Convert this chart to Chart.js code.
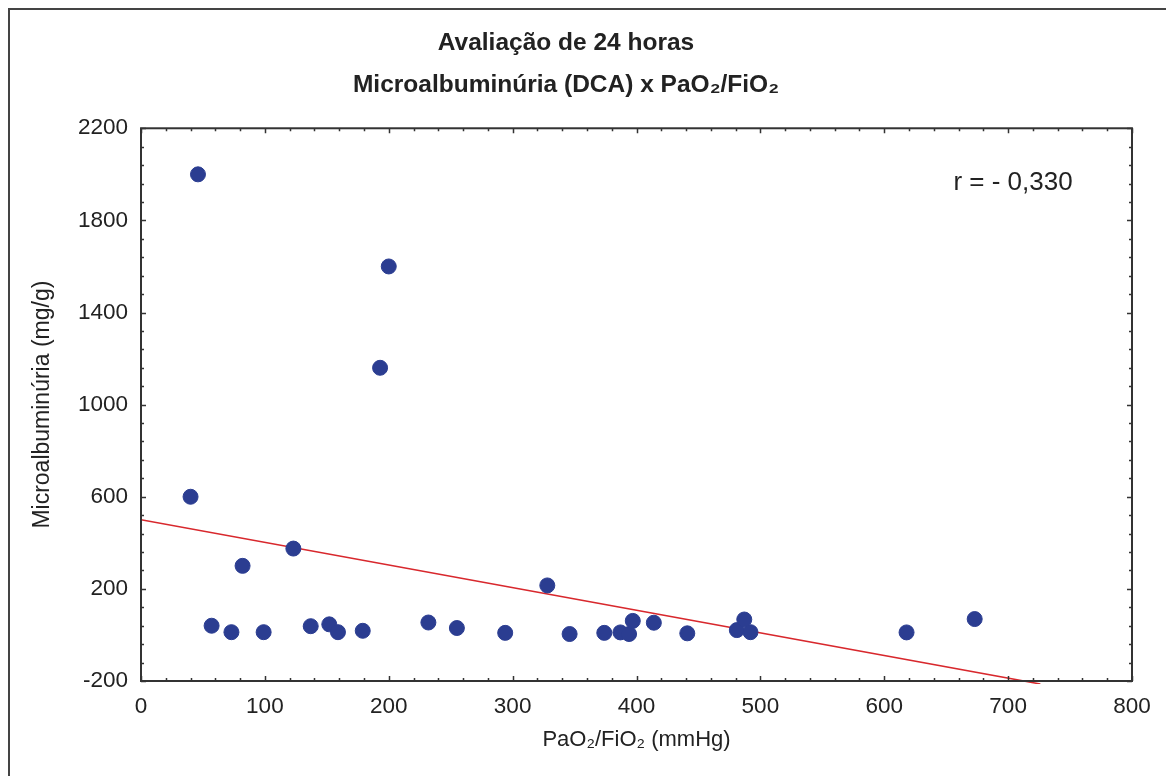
<!DOCTYPE html>
<html>
<head>
<meta charset="utf-8">
<script src="https://cdn.jsdelivr.net/npm/chart.js@4/dist/chart.umd.min.js"></script>
<style>
  html, body { margin: 0; padding: 0; background: #fff; }
  #wrap { width: 1166px; height: 776px; }
</style>
</head>
<body>
<div id="wrap"><canvas id="myChart" width="1166" height="776"></canvas></div>
<script>
// PaO2/FiO2 (mmHg) x Microalbuminúria (mg/g)
const pao2 = [46, 200, 193, 40, 57, 73, 82, 99, 123, 137, 152, 159, 179, 232, 255,
              294, 328, 346, 374, 387, 394, 397, 414, 441, 481, 487, 492, 618, 673];
const micro = [2000, 1600, 1160, 600, 40, 12, 300, 12, 375, 38, 46, 12, 18, 54, 30,
               9, 215, 4, 9, 11, 4, 61, 53, 7, 21, 67, 12, 11, 69];

// reta de regressao (extremos)
const trendX = [0, 726];
const trendY = [500, -213];

const xTicks = [0, 100, 200, 300, 400, 500, 600, 700, 800];
const yTicks = [-200, 200, 600, 1000, 1400, 1800, 2200];

const corText = 'r = - 0,330';

const FONT = "'Liberation Sans', Arial, sans-serif";
const INK = '#222';

// moldura, ticks para dentro e texto do r
const framePlugin = {
  id: 'frame',
  afterDraw(chart) {
    const ctx = chart.ctx;
    const a = chart.chartArea;
    const sx = chart.scales.x, sy = chart.scales.y;
    ctx.save();
    // borda externa
    ctx.strokeStyle = '#444';
    ctx.lineWidth = 2;
    ctx.beginPath();
    ctx.moveTo(9, 776);
    ctx.lineTo(9, 9);
    ctx.lineTo(1166, 9);
    ctx.stroke();
    // caixa do grafico
    ctx.strokeStyle = '#333';
    ctx.lineWidth = 2;
    ctx.strokeRect(a.left, a.top, a.right - a.left, a.bottom - a.top);
    ctx.lineWidth = 1.5;
    ctx.beginPath();
    for (let v = xTicks[0]; v <= xTicks[xTicks.length - 1]; v += 20) {
      const p = Math.round(sx.getPixelForValue(v)) + 0.5;
      const len = v % 100 === 0 ? 5 : 3;
      ctx.moveTo(p, a.bottom); ctx.lineTo(p, a.bottom - len);
      ctx.moveTo(p, a.top); ctx.lineTo(p, a.top + len);
    }
    for (let v = yTicks[0]; v <= yTicks[yTicks.length - 1]; v += 80) {
      const p = Math.round(sy.getPixelForValue(v)) + 0.5;
      const len = (v - yTicks[0]) % 400 === 0 ? 5 : 3;
      ctx.moveTo(a.left, p); ctx.lineTo(a.left + len, p);
      ctx.moveTo(a.right, p); ctx.lineTo(a.right - len, p);
    }
    ctx.stroke();
    // coeficiente
    ctx.fillStyle = INK;
    ctx.font = '26px ' + FONT;
    ctx.textAlign = 'center';
    ctx.textBaseline = 'middle';
    ctx.fillText(corText, a.right - 119, a.top + 55);
    ctx.restore();
  }
};

const config_scatter = {
  type: 'scatter',
  data: {
    datasets: [{
      label: 'Microalbuminúria',
      data: pao2.map((x, i) => ({ x: x, y: micro[i] })),
      backgroundColor: '#2b3d91',
      borderColor: '#2b3d91',
      pointRadius: 7.5,
      pointHoverRadius: 7.5,
      order: 1
    }, {
      type: 'line',
      label: 'Regressão',
      data: trendX.map((x, i) => ({ x: x, y: trendY[i] })),
      borderColor: '#d8282d',
      borderWidth: 1.6,
      pointRadius: 0,
      fill: false,
      clip: { left: 0, top: 0, right: 0, bottom: 3 },
      order: 2
    }]
  },
  options: {
    responsive: false,
    animation: false,
    layout: { padding: { left: 0, right: 34, top: 0, bottom: 0 } },
    plugins: {
      legend: { display: false },
      tooltip: { enabled: false },
      title: {
        display: true,
        text: ['Avaliação de 24 horas', 'Microalbuminúria (DCA) x PaO₂/FiO₂'],
        color: INK,
        font: { family: FONT, size: 24.5, weight: 'bold', lineHeight: 1.72 },
        padding: { top: 22, bottom: 22 }
      }
    },
    scales: {
      x: {
        type: 'linear',
        min: 0,
        max: 800,
        grid: { display: false, drawTicks: false },
        border: { display: false },
        ticks: {
          stepSize: 100,
          color: INK,
          padding: 12,
          font: { family: FONT, size: 22.5 },
          callback: v => String(v)
        },
        title: {
          display: true,
          text: 'PaO₂/FiO₂ (mmHg)',
          color: INK,
          font: { family: FONT, size: 22 },
          padding: { top: 0, bottom: 23 }
        },
        afterFit: s => { s.height = 95; }
      },
      y: {
        type: 'linear',
        min: -200,
        max: 2200,
        grid: { display: false, drawTicks: false },
        border: { display: false },
        ticks: {
          stepSize: 400,
          color: INK,
          padding: 13,
          font: { family: FONT, size: 22.5 },
          callback: v => String(v)
        },
        title: {
          display: true,
          text: 'Microalbuminúria (mg/g)',
          color: INK,
          font: { family: FONT, size: 23 },
          padding: { top: 29, bottom: 0 }
        },
        afterFit: s => { s.width = 141; }
      }
    }
  },
  plugins: [framePlugin]
};

const myChart = new Chart(document.getElementById('myChart'), config_scatter);
</script>
</body>
</html>
